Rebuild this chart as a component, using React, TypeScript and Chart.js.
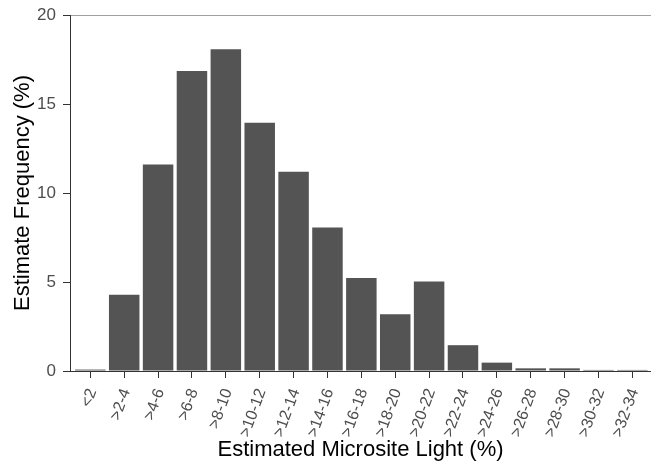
import React, { useEffect, useRef } from "react";
import { Chart, registerables } from "chart.js";

Chart.register(...registerables);

const categories: string[] = [
  "<2", ">2-4", ">4-6", ">6-8", ">8-10", ">10-12", ">12-14", ">14-16", ">16-18",
  ">18-20", ">20-22", ">22-24", ">24-26", ">26-28", ">28-30", ">30-32", ">32-34",
];
const frequencies: number[] = [
  0.08, 4.28, 11.6, 16.85, 18.08, 13.94, 11.2, 8.06, 5.23,
  3.19, 5.03, 1.45, 0.47, 0.15, 0.15, 0.06, 0.06,
];
const yTicks: number[] = [0, 5, 10, 15, 20];

const FONT = "'Liberation Sans', Arial, sans-serif";

export default function App() {
  const ref = useRef<HTMLCanvasElement | null>(null);

  useEffect(() => {
    if (!ref.current) return;
    const chart = new Chart(ref.current, {
      type: "bar",
      data: {
        datasets: [
          {
            data: frequencies.map((v, i) => ({ x: i, y: v })),
            backgroundColor: "#545454",
            borderWidth: 0,
            barPercentage: 0.9,
            categoryPercentage: 1,
          },
        ],
      },
      options: {
        responsive: false,
        animation: false,
        layout: { padding: { top: 15, right: 0, left: 0, bottom: 0 } },
        plugins: { legend: { display: false }, tooltip: { enabled: false } },
        scales: {
          x: {
            type: "linear",
            offset: false,
            min: -0.6,
            max: 16.55,
            afterBuildTicks: (scale: any) => {
              scale.ticks = categories.map((_, i) => ({ value: i }));
            },
            afterFit: (scale: any) => {
              scale.height = 95;
              scale.paddingLeft = 0;
              scale.paddingRight = 0;
            },
            ticks: {
              autoSkip: false,
              maxRotation: 70,
              minRotation: 70,
              padding: 8,
              labelOffset: 2,
              color: "#4d4d4d",
              font: { family: FONT, size: 16 },
              callback: (v: any) => categories[v as number] ?? "",
            },
            grid: {
              display: true,
              offset: false,
              drawOnChartArea: false,
              drawTicks: true,
              tickLength: 7,
              tickColor: "#333333",
              tickWidth: 1,
            },
            border: { display: true, color: "#333333", width: 1 },
            title: {
              display: true,
              text: "Estimated Microsite Light (%)",
              color: "#000000",
              font: { family: FONT, size: 22 },
              padding: { top: 0, bottom: 3 },
            },
          },
          y: {
            min: 0,
            max: 20,
            afterBuildTicks: (scale: any) => {
              scale.ticks = yTicks.map((v) => ({ value: v }));
            },
            afterFit: (scale: any) => {
              scale.width = 70;
              scale.paddingTop = 0;
              scale.paddingBottom = 0;
            },
            ticks: {
              color: "#4d4d4d",
              padding: 7,
              font: { family: FONT, size: 17 },
            },
            grid: {
              display: true,
              drawOnChartArea: true,
              drawTicks: true,
              tickLength: 7,
              color: (ctx: any) =>
                ctx.tick && ctx.tick.value === 20 ? "#a0a0a0" : "rgba(0,0,0,0)",
              tickColor: "#333333",
              lineWidth: 1,
            },
            border: { display: true, color: "#333333", width: 1 },
            title: {
              display: true,
              text: "Estimate Frequency (%)",
              color: "#000000",
              font: { family: FONT, size: 22 },
              padding: { top: 10, bottom: 0 },
            },
          },
        },
      },
    } as any);
    return () => chart.destroy();
  }, []);

  return (
    <div style={{ position: "fixed", left: 0, top: 0, width: 651, height: 466, background: "#ffffff" }}>
      <canvas ref={ref} width={651} height={466} style={{ display: "block" }} />
    </div>
  );
}
